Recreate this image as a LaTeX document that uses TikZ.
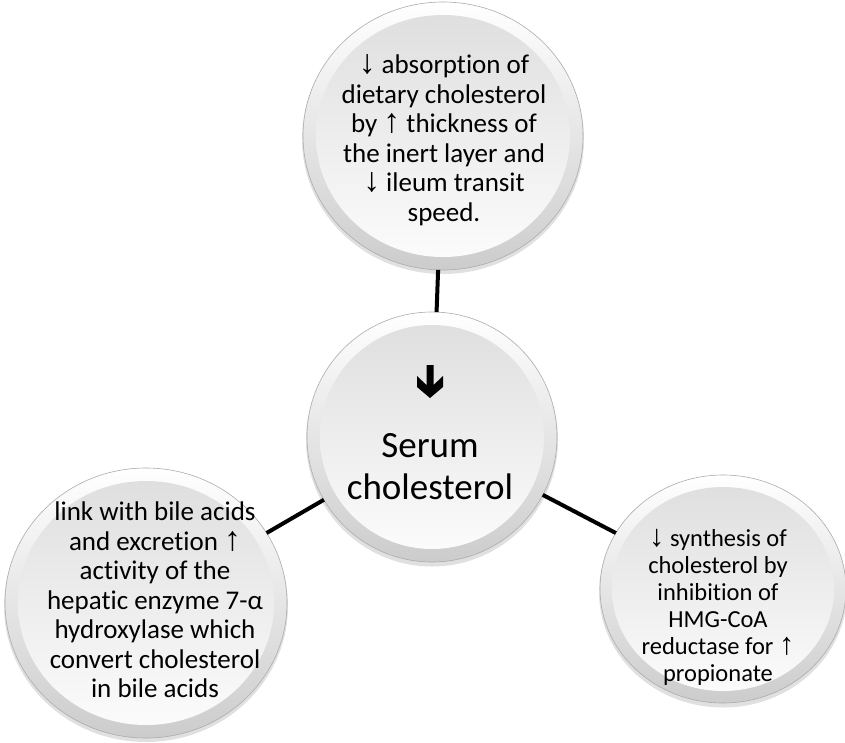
\documentclass[tikz,border=0pt]{standalone}
\usepackage{fontspec}
\setmainfont{Carlito}[RawFeature={-liga;-clig;-calt;-dlig}]
\newfontfamily\arrfont{Liberation Sans}[Scale=1.25]
\usetikzlibrary{shapes.geometric,calc}
\newcommand\dnar{{\arrfont\char"2193}}
\newcommand\upar{{\arrfont\char"2191}}
\begin{document}
\begin{tikzpicture}[x=1pt,y=-1pt,
  bubble/.style={ellipse, draw=gray!65, line width=0.6pt, top color=white, bottom color=gray!40,
    inner sep=0pt, outer sep=0pt},
  innerbub/.style={ellipse, draw=none, top color=gray!25, bottom color=gray!3, inner sep=0pt},
  shadowbub/.style={ellipse, fill=black, opacity=0.12, draw=none, inner sep=0pt},
  txt/.style={align=center, inner sep=0pt, font=\fontsize{27}{29.5}\selectfont},
  link/.style={line width=4pt, line cap=butt}
]
\useasboundingbox (0,0) rectangle (845,742);
\fill[white] (0,0) rectangle (845,742);

% shadows
\node[shadowbub, minimum width=282pt, minimum height=270pt] (topsh) at (443,139) {};
\node[shadowbub, minimum width=252pt, minimum height=253pt] (ctrsh) at (432,440) {};
\node[shadowbub, minimum width=284pt, minimum height=272pt] (leftsh) at (146,606) {};
\node[shadowbub, minimum width=248pt, minimum height=231pt] (rightsh) at (723,592) {};

% outer discs
\node[bubble, minimum width=280pt, minimum height=268pt] (top) at (443,136) {};
\node[bubble, minimum width=250pt, minimum height=250pt] (ctr) at (432,437) {};
\node[bubble, minimum width=282pt, minimum height=270pt] (left) at (146,603) {};
\node[bubble, minimum width=246pt, minimum height=228pt] (right) at (723,589) {};

% inner discs
\node[innerbub, minimum width=254pt, minimum height=242pt] (topin) at (top) {};
\node[innerbub, minimum width=224pt, minimum height=224pt] (ctrin) at (ctr) {};
\node[innerbub, minimum width=256pt, minimum height=244pt] (leftin) at (left) {};
\node[innerbub, minimum width=222pt, minimum height=204pt] (rightin) at (right) {};

% connectors
\draw[link] (top) -- (ctr);
\draw[link] (ctr) -- (left);
\draw[link] (ctr) -- (right);

% bold arrow in centre
\fill[black, shift={(ctr)}] (-5.5,-72) -- (1.5,-72) -- (1.5,-52) -- (11,-61) -- (11,-50)
  -- (-2,-39) -- (-15,-50) -- (-15,-61) -- (-5.5,-52) -- cycle;

% texts
\node[txt] (toptxt) at (444,140) {\dnar{} absorption of\\dietary cholesterol\\by \upar{} thickness of\\the inert layer and\\\dnar{} ileum transit\\speed.};
\node[txt, font=\fontsize{37}{42}\selectfont] (ctrtxt) at (430,467) {Serum\\cholesterol};
\node[txt] (lefttxt) at (155,600) {link with bile acids\\and excretion \upar\\activity of the\\hepatic enzyme 7-α\\hydroxylase which\\convert cholesterol\\in bile acids};
\node[txt, font=\fontsize{24.5}{27}\selectfont] (righttxt) at (718,607) {\dnar{} synthesis of\\cholesterol by\\inhibition of\\HMG-CoA\\reductase for \upar\\propionate};
\end{tikzpicture}
\end{document}
